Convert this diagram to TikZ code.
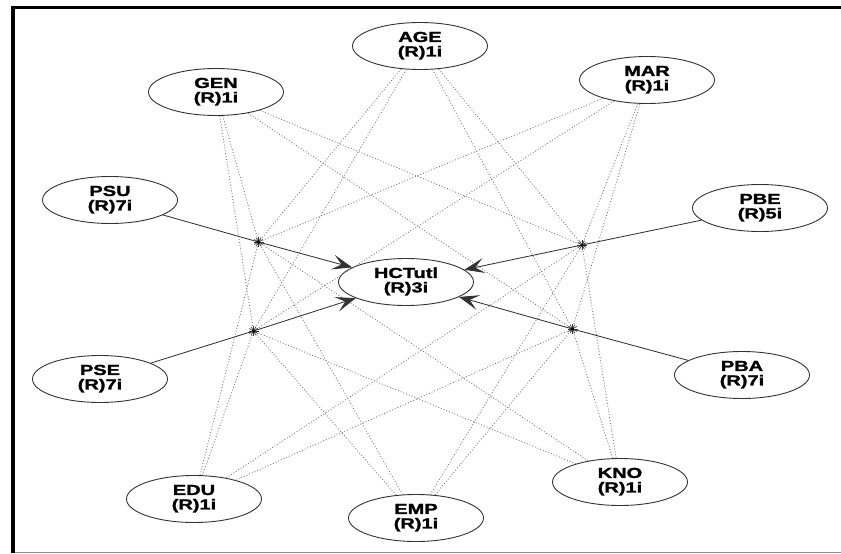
\documentclass[tikz,border=0pt]{standalone}
\usepackage{fontspec}
\usepackage{graphicx}
\setmainfont{Liberation Sans}
\newfontfamily\lblfont{Liberation Sans Bold}[FakeBold=1.3]
\usetikzlibrary{arrows.meta,shapes.geometric}
% two-line construct label, set wide
\newcommand{\ctxt}[2]{\scalebox{1.38}[1]{\begin{tabular}{@{}c@{}}#1\\[-1.5pt]#2\end{tabular}}}
\begin{document}
\begin{tikzpicture}[x=1pt,y=-1pt,
  construct/.style={ellipse, draw=black!80, line width=0.9pt, fill=white,
    minimum width=135pt, minimum height=47pt, inner sep=0pt,
    font=\lblfont\fontsize{14.5}{16}\selectfont},
  modline/.style={draw=black!52, line width=0.9pt, dash pattern=on 0.9pt off 2pt},
  pathline/.style={draw=black!80, line width=0.85pt},
  tip/.style={-{Stealth[length=20pt,width=15pt,inset=9pt]}},
  spoke/.style={draw=black!80, line width=0.6pt}]

\useasboundingbox (0,0) rectangle (841,554);

% frame
\draw[line width=1pt, black!45] (12,552) -- (841,552);
\draw[line width=3.6pt, black] (12.7,553) -- (12.7,7.3) -- (841,7.3);

% interaction points on the structural paths
\coordinate (jlu) at (258.5,242);
\coordinate (jll) at (253.5,331);
\coordinate (jru) at (582,245);
\coordinate (jrl) at (572.5,329);

% constructs
\node[construct] (hct) at (406,282) {\ctxt{HCTutl}{(R)3i}};
\node[construct] (age) at (420,46)  {\ctxt{AGE}{(R)1i}};
\node[construct] (gen) at (216,92)  {\ctxt{GEN}{(R)1i}};
\node[construct] (mar) at (647,80)  {\ctxt{MAR}{(R)1i}};
\node[construct] (psu) at (110,200) {\ctxt{PSU}{(R)7i}};
\node[construct] (pbe) at (760,208) {\ctxt{PBE}{(R)5i}};
\node[construct] (pse) at (100,379) {\ctxt{PSE}{(R)7i}};
\node[construct] (pba) at (742,375) {\ctxt{PBA}{(R)7i}};
\node[construct] (edu) at (194,499) {\ctxt{EDU}{(R)1i}};
\node[construct] (emp) at (416,518) {\ctxt{EMP}{(R)1i}};
\node[construct] (kno) at (620,482) {\ctxt{KNO}{(R)1i}};

% moderating links
\foreach \m in {age,gen,mar,edu,emp,kno}
  \foreach \j in {jlu,jll,jru,jrl}
    \draw[modline] (\m) -- (\j);

% structural paths
\draw[pathline, tip] (psu) -- (jlu) -- (hct);
\draw[pathline, tip] (pse) -- (jll) -- (hct);
\draw[pathline, tip] (pbe) -- (jru) -- (hct);
\draw[pathline, tip] (pba) -- (jrl) -- (hct);

% interaction markers
\foreach \j in {jlu,jll,jru,jrl} {
  \foreach \a in {0,30,...,150}
    \draw[spoke] (\j) ++(\a:5) -- ++(\a+180:10);
  \fill[black] (\j) circle (1.6pt);
}
\end{tikzpicture}
\end{document}
